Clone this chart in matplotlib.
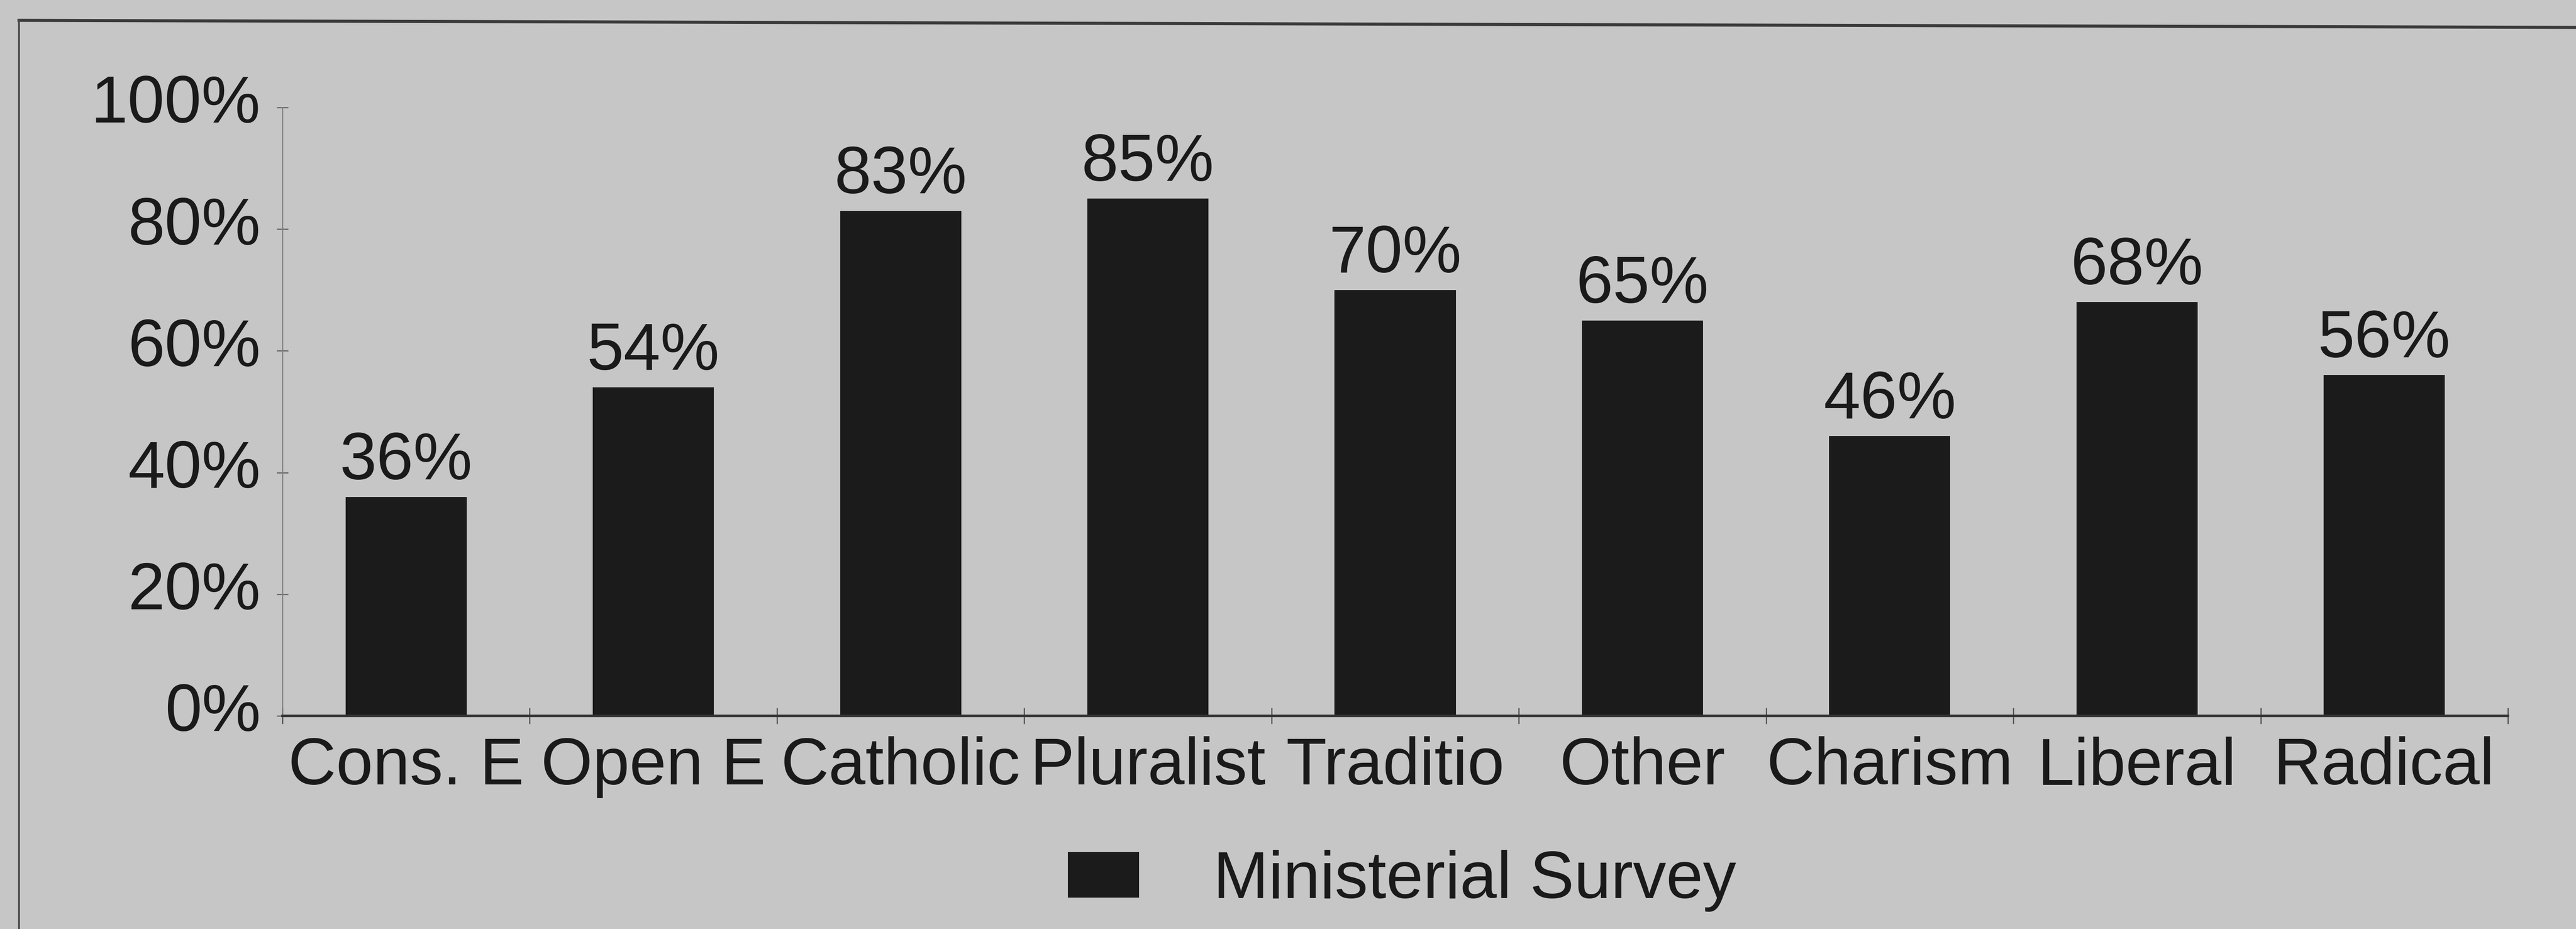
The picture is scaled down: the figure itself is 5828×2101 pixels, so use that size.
import matplotlib
matplotlib.use("Agg")
import matplotlib.pyplot as plt
from matplotlib.lines import Line2D
from matplotlib.transforms import ScaledTranslation

categories = ["Cons. E", "Open E", "Catholic", "Pluralist", "Traditio",
              "Other", "Charism", "Liberal", "Radical"]
values = [36, 54, 83, 85, 70, 65, 46, 68, 56]
value_labels = ["36%", "54%", "83%", "85%", "70%", "65%", "46%", "68%", "56%"]
yticks = [0, 20, 40, 60, 80, 100]
ytick_labels = ["0%", "20%", "40%", "60%", "80%", "100%"]
series_name = "Ministerial Survey"

BG = "#c6c6c6"
BAR = "#1b1b1b"
TXT = "#1a1a1a"
FS = 108

plt.rcParams['font.family'] = ['Liberation Sans', 'DejaVu Sans']

W, H = 5828, 2101
DPI = 100
fig = plt.figure(figsize=(W / DPI, H / DPI), dpi=DPI, facecolor=BG)

ax_l, ax_r = 639 / W, 5674 / W
ax_b, ax_t = (H - 1619) / H, (H - 243) / H
ax = fig.add_axes([ax_l, ax_b, ax_r - ax_l, ax_t - ax_b])
ax.set_facecolor(BG)

x = list(range(len(categories)))
bars = ax.bar(x, values, width=0.49, color=BAR, label=series_name, zorder=2)

ax.set_xlim(-0.5, len(categories) - 0.5)
ax.set_ylim(0, 100)

for s in ("top", "right"):
    ax.spines[s].set_visible(False)
ax.spines["left"].set_color("#808080")
ax.spines["left"].set_linewidth(1.8)
ax.spines["bottom"].set_color("#333333")
ax.spines["bottom"].set_linewidth(4.0)
ax.spines["bottom"].set_zorder(3)

ax.set_yticks(yticks)
ax.set_yticklabels(ytick_labels)
ax.tick_params(axis="y", direction="inout", length=19, width=2, color="#6a6a6a",
               pad=26, labelsize=FS, labelcolor=TXT)
off = ScaledTranslation(0, 20 / DPI, fig.dpi_scale_trans)
for lab in ax.get_yticklabels():
    lab.set_transform(lab.get_transform() + off)

ax.set_xticks(x)
ax.set_xticklabels(categories)
ax.tick_params(axis="x", which="major", length=0, pad=46 * 72 / DPI,
               labelsize=FS, labelcolor=TXT)
ax.set_xticks([i - 0.5 for i in range(len(categories) + 1)], minor=True)
ax.tick_params(axis="x", which="minor", direction="inout", length=26, width=2,
               color="#555555")

for xi, v, lab in zip(x, values, value_labels):
    ax.annotate(lab, xy=(xi, v), xytext=(0, 40 * 72 / DPI), textcoords="offset points",
                ha="center", va="baseline", fontsize=FS, color=TXT)

leg = fig.legend(handles=[bars], labels=[series_name], loc="center",
                 bbox_to_anchor=(3172 / W, (H - 1992) / H), frameon=False,
                 fontsize=FS, handlelength=1.07, handleheight=0.68,
                 handletextpad=1.12, borderpad=0, labelcolor=TXT)

# scanned page frame
fig.add_artist(Line2D([43 / W, 1.0], [(H - 46) / H, (H - 62) / H],
                      transform=fig.transFigure, color="#3a3a3a", linewidth=5))
fig.add_artist(Line2D([43 / W, 43 / W], [(H - 46) / H, 0.0],
                      transform=fig.transFigure, color="#4a4a4a", linewidth=3))

fig.savefig("out.png", dpi=DPI, facecolor=BG)
